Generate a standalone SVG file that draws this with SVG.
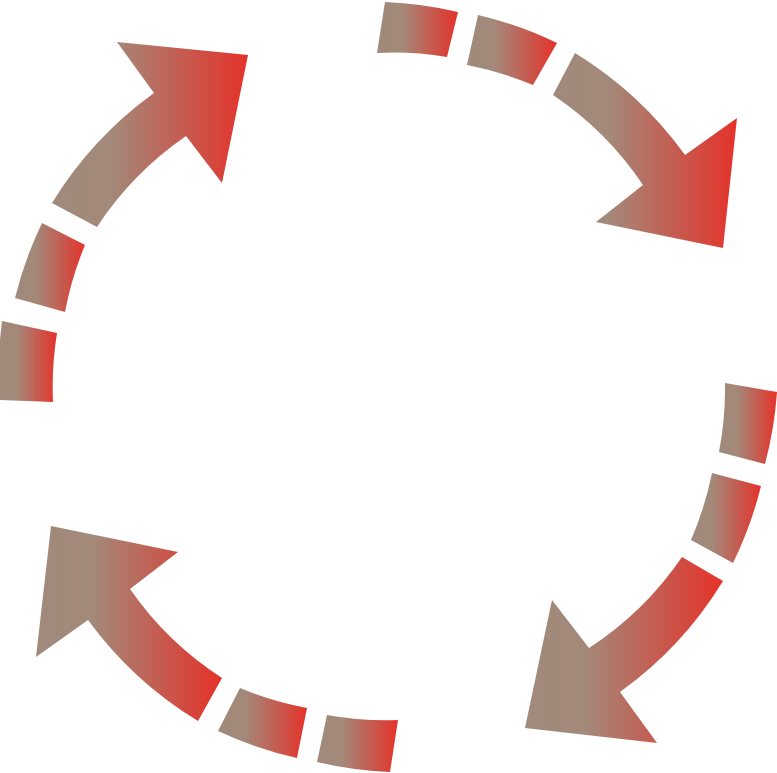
<svg xmlns="http://www.w3.org/2000/svg" width="777" height="773" viewBox="0 0 777 773">
  <defs>
    <linearGradient id="g" x1="0" y1="0" x2="1" y2="0">
      <stop offset="0" stop-color="#a08a7b"/>
      <stop offset="0.3" stop-color="#a3897a"/>
      <stop offset="1" stop-color="#e5322a"/>
    </linearGradient>
  </defs>
  <style>
    .p { fill: url(#g); stroke: none; }
  </style>
  <rect width="777" height="773" fill="#ffffff"/>
  <g id="arrow-top-left">
    <path class="p" d="M0,400 A385,385 0 0 1 2,321 L57,333 A335,335 0 0 0 53,402 Z"/>
    <path class="p" d="M15,298 A385,385 0 0 1 42,223 L85,245 A335,335 0 0 0 65,312 Z"/>
    <path class="p" d="M52,203 A380,380 0 0 1 154,93 L117,42 L248,55 L222,183 L186,136 A330,330 0 0 0 97,227 Z"/>
  </g>
  <g id="arrow-top-right">
    <path class="p" d="M385,2 A385,385 0 0 1 458,12 L447,57 A335,335 0 0 0 377,53 Z"/>
    <path class="p" d="M478,15 A385,385 0 0 1 557,43 L533,85 A335,335 0 0 0 467,65 Z"/>
    <path class="p" d="M575,53 A380,380 0 0 1 685,155 L737,118 L723,248 L596,222 L643,185 A330,330 0 0 0 553,95 Z"/>
  </g>
  <g id="arrow-bottom-right">
    <path class="p" d="M777,392 A385,385 0 0 1 765,464 L719,452 A335,335 0 0 0 725,383 Z"/>
    <path class="p" d="M761,486 A385,385 0 0 1 733,563 L691,540 A335,335 0 0 0 712,473 Z"/>
    <path class="p" d="M723,581 A380,380 0 0 1 620,692 L657,743 L525,728 L552,600 L589,648 A330,330 0 0 0 682,557 Z"/>
  </g>
  <g id="arrow-bottom-left">
    <path class="p" d="M390,772 A385,385 0 0 1 317,762 L327,715 A335,335 0 0 0 398,720 Z"/>
    <path class="p" d="M297,758 A385,385 0 0 1 218,731 L240,688 A335,335 0 0 0 307,708 Z"/>
    <path class="p" d="M198,721 A380,380 0 0 1 88,620 L36,657 L51,526 L178,552 L130,589 A330,330 0 0 0 222,678 Z"/>
  </g>
</svg>
